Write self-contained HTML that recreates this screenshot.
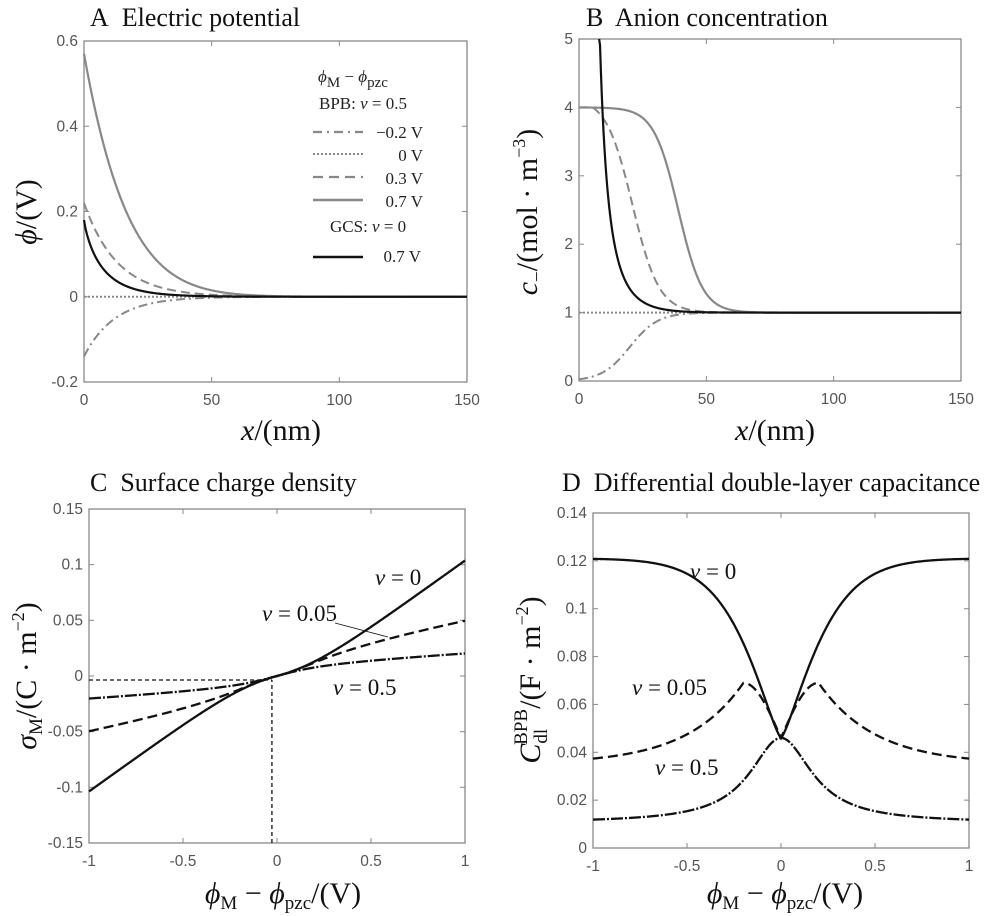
<!DOCTYPE html>
<html><head><meta charset="utf-8"><style>
html,body{margin:0;padding:0;background:#fff;}
svg{display:block;}
.t{font-family:"Liberation Serif",serif;font-size:26px;fill:#111;}
.tk{font-family:"Liberation Sans",sans-serif;font-size:15.5px;fill:#555;}
.al{font-family:"Liberation Serif",serif;font-size:30px;fill:#111;}
.lg{font-family:"Liberation Serif",serif;font-size:17px;fill:#222;}
.ann{font-family:"Liberation Serif",serif;font-size:23px;fill:#111;}
</style></head><body>
<svg id="s" width="1000" height="916" viewBox="0 0 1000 916" xmlns="http://www.w3.org/2000/svg">
<text class="t" x="90" y="26">A&#160; Electric potential</text>
<text class="t" x="586" y="26">B&#160; Anion concentration</text>
<text class="t" x="90" y="491">C&#160; Surface charge density</text>
<text class="t" x="562" y="491">D&#160; Differential double-layer capacitance</text>

<text class="al" x="281" y="440" text-anchor="middle"><tspan font-style="italic">x</tspan>/(nm)</text>
<text class="al" x="775" y="440" text-anchor="middle"><tspan font-style="italic">x</tspan>/(nm)</text>
<text class="al" x="283" y="903" text-anchor="middle"><tspan font-style="italic">ϕ</tspan><tspan font-size="19" dy="6">M</tspan><tspan dy="-6"> − </tspan><tspan font-style="italic">ϕ</tspan><tspan font-size="19" dy="6">pzc</tspan><tspan dy="-6">/(V)</tspan></text>
<text class="al" x="785" y="903" text-anchor="middle"><tspan font-style="italic">ϕ</tspan><tspan font-size="19" dy="6">M</tspan><tspan dy="-6"> − </tspan><tspan font-style="italic">ϕ</tspan><tspan font-size="19" dy="6">pzc</tspan><tspan dy="-6">/(V)</tspan></text>

<text class="al" transform="translate(36,212) rotate(-90)" text-anchor="middle"><tspan font-style="italic">ϕ</tspan>/(V)</text>
<text class="al" transform="translate(537,212) rotate(-90)" text-anchor="middle"><tspan font-style="italic">c</tspan><tspan font-size="19" dy="6">−</tspan><tspan dy="-6">/(mol · m</tspan><tspan font-size="18" dy="-12">−3</tspan><tspan dy="12">)</tspan></text>
<text class="al" transform="translate(36,676) rotate(-90)" text-anchor="middle"><tspan font-style="italic">σ</tspan><tspan font-size="19" dy="6">M</tspan><tspan dy="-6">/(C · m</tspan><tspan font-size="18" dy="-12">−2</tspan><tspan dy="12">)</tspan></text>
<text class="al" transform="translate(540,680) rotate(-90)" text-anchor="middle"><tspan font-style="italic">C</tspan><tspan font-size="19" dy="7">dl</tspan><tspan font-size="19" dx="-16" dy="-20">BPB</tspan><tspan dy="13">/(F · m</tspan><tspan font-size="18" dy="-12">−2</tspan><tspan dy="12">)</tspan></text>

<!-- legend A -->
<text class="lg" x="318" y="82" font-size="24"><tspan font-style="italic">ϕ</tspan><tspan font-size="15" dy="5">M</tspan><tspan dy="-5"> − </tspan><tspan font-style="italic">ϕ</tspan><tspan font-size="15" dy="5">pzc</tspan></text>
<text class="lg" x="319" y="109">BPB:  <tspan font-style="italic">v</tspan> = 0.5</text>
<line x1="313" y1="132" x2="363" y2="132" stroke="#888" stroke-width="2.2" stroke-dasharray="9,5,2,5"/>
<text class="lg" x="423" y="138" text-anchor="end">−0.2 V</text>
<line x1="313" y1="154" x2="363" y2="154" stroke="#888" stroke-width="2" stroke-dasharray="2,2"/>
<text class="lg" x="423" y="161" text-anchor="end">0 V</text>
<line x1="313" y1="177" x2="363" y2="177" stroke="#888" stroke-width="2.2" stroke-dasharray="10,6"/>
<text class="lg" x="423" y="184" text-anchor="end">0.3 V</text>
<line x1="313" y1="200" x2="363" y2="200" stroke="#888" stroke-width="2.5"/>
<text class="lg" x="423" y="207" text-anchor="end">0.7 V</text>
<text class="lg" x="330" y="232">GCS:  <tspan font-style="italic">v</tspan> = 0</text>
<line x1="313" y1="257" x2="363" y2="257" stroke="#111" stroke-width="2.5"/>
<text class="lg" x="421" y="262" text-anchor="end">0.7 V</text>

<!-- annotations C -->
<text class="ann" x="375" y="585"><tspan font-style="italic">v</tspan> = 0</text>
<text class="ann" x="262" y="621"><tspan font-style="italic">v</tspan> = 0.05</text>
<line x1="335" y1="623" x2="388" y2="637" stroke="#111" stroke-width="0.8"/>
<text class="ann" x="333" y="695"><tspan font-style="italic">v</tspan> = 0.5</text>
<!-- annotations D -->
<text class="ann" x="690" y="579"><tspan font-style="italic">v</tspan> = 0</text>
<text class="ann" x="632" y="695"><tspan font-style="italic">v</tspan> = 0.05</text>
<text class="ann" x="655" y="775"><tspan font-style="italic">v</tspan> = 0.5</text>
<g id="g"></g>
</svg>
<script>
var g=document.getElementById('g'),NS="http://www.w3.org/2000/svg";
function el(n,a,txt){var e=document.createElementNS(NS,n);for(var k in a)e.setAttribute(k,a[k]);if(txt!==undefined)e.textContent=txt;g.appendChild(e);return e;}
function axes(L,R,T,B,x0,x1,y0,y1,xt,yt,xf,yf){
 var X=function(v){return L+(v-x0)/(x1-x0)*(R-L)},Y=function(v){return B-(v-y0)/(y1-y0)*(B-T)};
 el('rect',{x:L,y:T,width:R-L,height:B-T,fill:'none',stroke:'#888','stroke-width':1.3});
 xt.forEach(function(v){var x=X(v);el('line',{x1:x,y1:B,x2:x,y2:B-5,stroke:'#888'});el('line',{x1:x,y1:T,x2:x,y2:T+5,stroke:'#888'});el('text',{x:x,y:B+23,'class':'tk','text-anchor':'middle'},xf(v));});
 yt.forEach(function(v){var y=Y(v);el('line',{x1:L,y1:y,x2:L+5,y2:y,stroke:'#888'});el('line',{x1:R,y1:y,x2:R-5,y2:y,stroke:'#888'});el('text',{x:L-6,y:y+5,'class':'tk','text-anchor':'end'},yf(v));});
 return {X:X,Y:Y,L:L,R:R,T:T,B:B};
}
function plot(a,f,xa,xb,st){var d='',n=400;for(var i=0;i<=n;i++){var x=xa+(xb-xa)*i/n,y=f(x);var py=Math.max(a.T,Math.min(a.B,a.Y(y)));d+=(i?'L':'M')+a.X(x).toFixed(2)+','+py.toFixed(2);}
 var at={d:d,fill:'none',stroke:st.c,'stroke-width':st.w};if(st.da)at['stroke-dasharray']=st.da;el('path',at);}
function fmt(v){return ''+(+v.toFixed(2));}
var gray='#888',blk='#111';
// A
var A=axes(84,467,41,382,0,150,-0.2,0.6,[0,50,100,150],[-0.2,0,0.2,0.4,0.6],String,fmt);
plot(A,function(x){return 0},0,150,{c:gray,w:2,da:'2,2'});
plot(A,function(x){return -0.14*Math.exp(-x/12)},0,150,{c:gray,w:2,da:'9,4,2,4'});
plot(A,function(x){return 0.22*Math.exp(-x/13)},0,150,{c:gray,w:2,da:'9,5'});
plot(A,function(x){return 0.57*Math.exp(-x/17-Math.pow(x/60,2))},0,150,{c:gray,w:2.2});
plot(A,function(x){return 0.18*Math.exp(-Math.pow(x,0.85)/5.5)},0,150,{c:blk,w:2.2});
// B
var B=axes(579,961,39,381,0,150,0,5,[0,50,100,150],[0,1,2,3,4,5],String,String);
plot(B,function(x){return 1},0,150,{c:gray,w:2,da:'2,2'});
plot(B,function(x){return 1/(1+Math.exp(-(x-20)/5.5))},0,150,{c:gray,w:2,da:'9,4,2,4'});
plot(B,function(x){return Math.min(4,1+3.15/(1+Math.exp((x-21)/5.2)))},0,150,{c:gray,w:2,da:'9,5'});
plot(B,function(x){return 1+3/(1+Math.exp((x-39)/4.8))},0,150,{c:gray,w:2.2});
plot(B,function(x){var e=1.19*Math.exp(-x/7.2);return Math.pow((1+e)/(1-e),2)},7.9,150,{c:blk,w:2.2});
// D functions
function d0(p){var a=Math.abs(p);return 0.046+0.075*(1-Math.exp(-Math.pow(a/0.25,1.3)));}
function d05(p){var a=Math.abs(p);if(a<0.2)return 0.046+0.023*Math.sin(Math.PI/2*a/0.2);return 0.035+0.034*Math.exp(-(a-0.2)/0.3);}
function d5(p){return 0.0105+0.0355/(1+Math.pow(p/0.2,2));}
function integ(f){return function(p){var n=200,s=0,h=p/n;for(var i=0;i<n;i++)s+=f((i+0.5)*h)*h;return s;}}
// C
var C=axes(89,465,509,843,-1,1,-0.15,0.15,[-1,-0.5,0,0.5,1],[-0.15,-0.1,-0.05,0,0.05,0.1,0.15],fmt,fmt);
el('line',{x1:C.L,y1:C.Y(-0.0036),x2:C.X(-0.027),y2:C.Y(-0.0036),stroke:blk,'stroke-width':1.3,'stroke-dasharray':'4,3'});
el('line',{x1:C.X(-0.027),y1:C.B,x2:C.X(-0.027),y2:C.Y(-0.0036),stroke:blk,'stroke-width':1.3,'stroke-dasharray':'4,3'});
plot(C,integ(d0),-1,1,{c:blk,w:2.3});
plot(C,integ(d05),-1,1,{c:blk,w:2.3,da:'10,5'});
plot(C,integ(d5),-1,1,{c:blk,w:2.3,da:'12,2,2,2'});
// D
var D=axes(593,969,513,848,-1,1,0,0.14,[-1,-0.5,0,0.5,1],[0,0.02,0.04,0.06,0.08,0.1,0.12,0.14],fmt,fmt);
plot(D,d0,-1,1,{c:blk,w:2.3});
plot(D,d05,-1,1,{c:blk,w:2.3,da:'10,5'});
plot(D,d5,-1,1,{c:blk,w:2.3,da:'12,2,2,2'});
</script>
</body></html>
